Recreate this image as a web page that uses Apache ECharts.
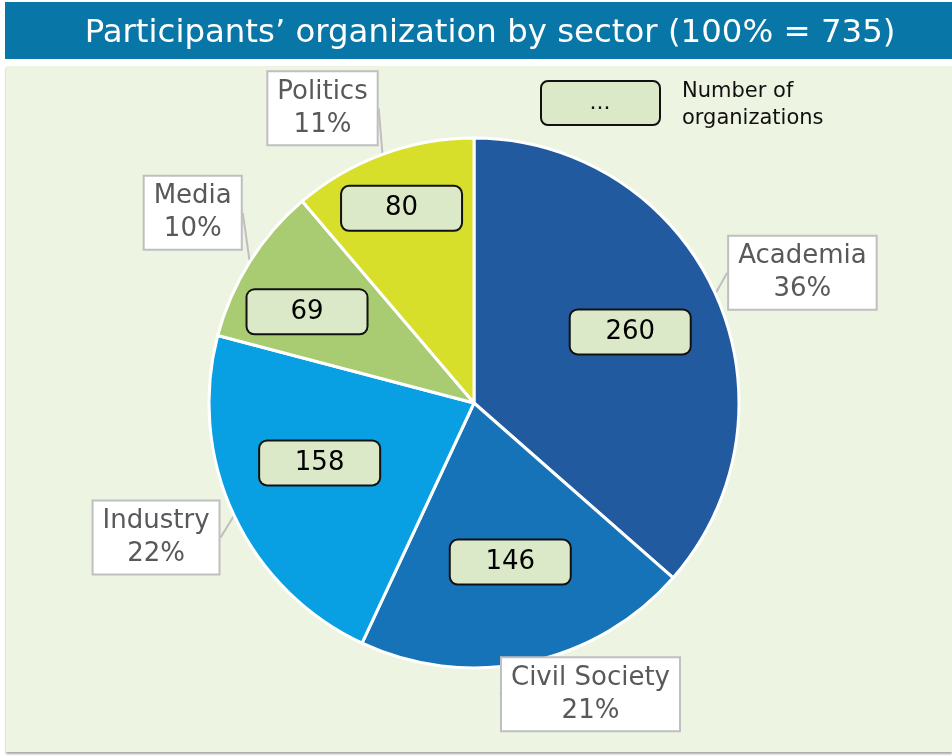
<!DOCTYPE html>
<html>
<head>
<meta charset="utf-8">
<title>Participants' organization by sector</title>
<script src="https://cdn.jsdelivr.net/npm/echarts@6/dist/echarts.min.js"></script>
<style>
  html, body { margin: 0; padding: 0; background: #fff; }
  #chart { width: 952px; height: 756px; }
</style>
</head>
<body>
<div id="chart"></div>
<script>
const sectors = ['Academia', 'Civil Society', 'Industry', 'Media', 'Politics']
const organizations = [260, 146, 158, 69, 80]
const titleText = 'Participants\u2019 organization by sector (100% = 735)'
const legendLines = ['Number of', 'organizations']

const sectorColors = ['#215a9e', '#1673b8', '#08a0e2', '#a9cb71', '#d7df2a']
// where each callout box sits, relative to the edge point of its slice
const calloutOffset = [[87, -21], [62, 32], [-78, 22], [-57, -49], [-60, -46]]
// how far out the number boxes sit, relative to the default inside position
const innerStretch = [1.29, 1.23, 1.25, 1.43, 1.57]
const innerNudge = [[-3, 1], [2, -4], [-1, -12], [-3, 12], [1, 5]]

const cx = 474
const cy = 403
const radius = 265
const font = '"DejaVu Sans", Verdana, sans-serif'

const pieData = sectors.map(function(name, i) {
  return { name: name, value: organizations[i] }
})

const chart = echarts.init(document.getElementById('chart'))
chart.setOption({
  animation: false,
  color: sectorColors,
  title: {
    text: titleText,
    left: 485,
    top: 13,
    textAlign: 'center',
    textStyle: {
      color: '#fff',
      fontFamily: font,
      fontWeight: 'normal',
      fontSize: 32.4
    }
  },
  graphic: [
    {
      type: 'rect',
      shape: { x: 5, y: 2, width: 947, height: 57 },
      style: { fill: '#0877a8' }
    },
    {
      type: 'rect',
      shape: { x: 6, y: 66, width: 946, height: 686 },
      style: {
        fill: '#edf4e2',
        shadowColor: 'rgba(0,0,0,0.35)',
        shadowBlur: 2,
        shadowOffsetY: 2
      }
    },
    {
      type: 'rect',
      shape: { x: 541, y: 81, width: 119, height: 44, r: 7 },
      style: { fill: '#dce9c8', stroke: '#111', lineWidth: 2 }
    },
    {
      type: 'text',
      x: 600,
      y: 103,
      style: {
        text: '...',
        fill: '#111',
        font: '22px ' + font,
        textAlign: 'center',
        textVerticalAlign: 'middle'
      }
    },
    {
      type: 'text',
      x: 682,
      y: 92,
      style: {
        text: legendLines[0],
        fill: '#111',
        font: '21px ' + font,
        textVerticalAlign: 'middle'
      }
    },
    {
      type: 'text',
      x: 682,
      y: 119,
      style: {
        text: legendLines[1],
        fill: '#111',
        font: '21px ' + font,
        textVerticalAlign: 'middle'
      }
    }
  ],
  series: [
    {
      // the pie itself, with the number boxes
      type: 'pie',
      center: [cx, cy],
      radius: radius,
      startAngle: 90,
      clockwise: true,
      silent: true,
      avoidLabelOverlap: false,
      itemStyle: {
        borderColor: '#fff',
        borderWidth: 3
      },
      label: {
        show: true,
        position: 'inside',
        formatter: '{c}',
        color: '#000',
        fontFamily: font,
        fontSize: 26,
        backgroundColor: '#dce9c8',
        borderColor: '#111',
        borderWidth: 2,
        borderRadius: 7,
        width: 119,
        height: 43,
        lineHeight: 43,
        padding: 0,
        align: 'center'
      },
      labelLayout: function(p) {
        const r = p.labelRect
        const mx = r.x + r.width / 2
        const my = r.y + r.height / 2
        const k = innerStretch[p.dataIndex]
        const n = innerNudge[p.dataIndex]
        return {
          x: cx + k * (mx - cx) + n[0],
          y: cy + k * (my - cy) + n[1],
          align: 'center',
          verticalAlign: 'middle'
        }
      },
      data: pieData
    },
    {
      // same slices, transparent, carrying the sector / percent callouts
      type: 'pie',
      center: [cx, cy],
      radius: radius,
      startAngle: 90,
      clockwise: true,
      silent: true,
      avoidLabelOverlap: false,
      percentPrecision: 0,
      itemStyle: {
        color: 'rgba(0,0,0,0)'
      },
      label: {
        show: true,
        position: 'outside',
        formatter: '{b}\n{d}%',
        color: '#595959',
        fontFamily: font,
        fontSize: 26,
        lineHeight: 33,
        backgroundColor: '#fff',
        borderColor: '#bfbfbf',
        borderWidth: 2,
        padding: [6, 9, 0, 9],
        align: 'center'
      },
      labelLine: {
        show: true,
        length: 10,
        length2: 0,
        lineStyle: { color: '#bfbfbf', width: 2 }
      },
      labelLayout: function(p) {
        let t = p.labelLinePoints && p.labelLinePoints[0]
        if (!t) {
          t = [p.labelRect.x + p.labelRect.width / 2, p.labelRect.y + p.labelRect.height / 2]
        }
        const o = calloutOffset[p.dataIndex]
        return {
          x: t[0] + o[0],
          y: t[1] + o[1],
          align: 'center',
          verticalAlign: 'middle'
        }
      },
      data: pieData
    }
  ]
})
</script>
</body>
</html>
